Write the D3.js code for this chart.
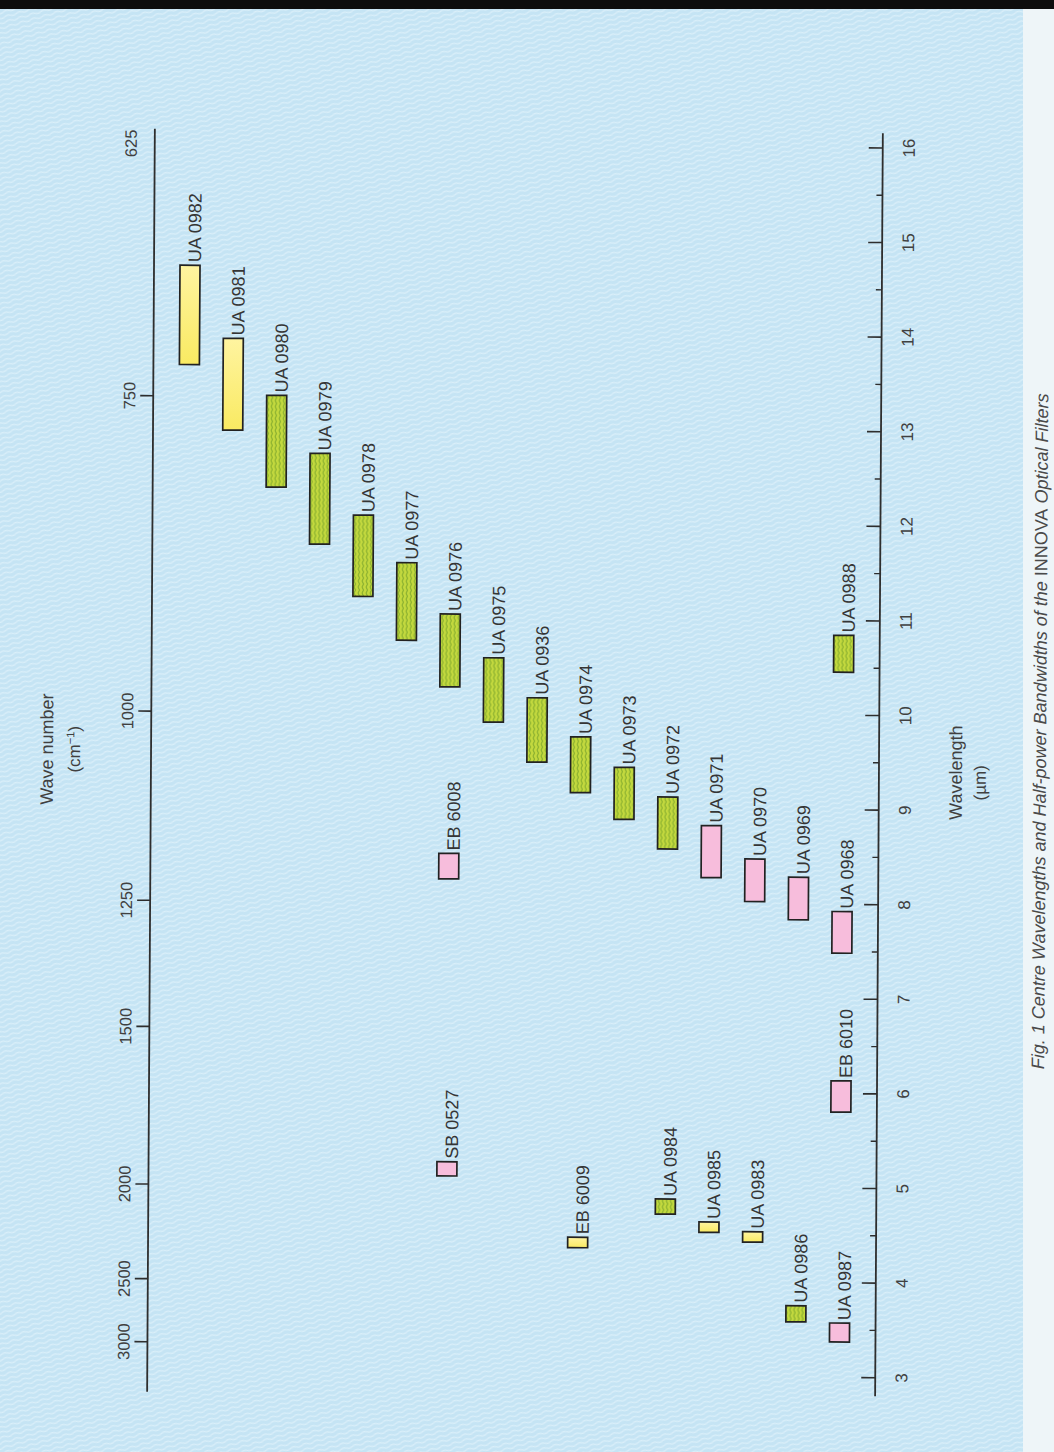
<!DOCTYPE html>
<html>
<head>
<meta charset="utf-8">
<script src="https://cdn.jsdelivr.net/npm/d3@7"></script>
<style>
  html, body { margin: 0; padding: 0; background: #ffffff; }
  svg { display: block; }
  text { font-family: "Liberation Sans", Arial, sans-serif; }
</style>
</head>
<body>
<svg id="chart" width="1054" height="1452"></svg>
<script>
// INNOVA optical filters: half-power band edges in micrometres
const filters = ["UA 0982", "UA 0981", "UA 0980", "UA 0979", "UA 0978", "UA 0977", "UA 0976",
  "UA 0975", "UA 0936", "UA 0974", "UA 0973", "UA 0972", "UA 0971", "UA 0970", "UA 0969",
  "UA 0968", "UA 0988", "EB 6008", "EB 6010", "SB 0527", "EB 6009", "UA 0984", "UA 0985",
  "UA 0983", "UA 0986", "UA 0987"];
// plotting column (left to right) of each filter
const columns = [0, 1, 2, 3, 4, 5, 6, 7, 8, 9, 10, 11, 12, 13, 14, 15, 15, 6, 15, 6, 9, 11, 12, 13, 14, 15];
const bandLow = [13.66, 12.97, 12.37, 11.77, 11.22, 10.76, 10.27, 9.90, 9.48, 9.16, 8.88, 8.57, 8.27,
  8.02, 7.83, 7.48, 10.45, 8.24, 5.80, 5.10, 4.35, 4.71, 4.52, 4.42, 3.58, 3.37];
const bandHigh = [14.71, 13.94, 13.34, 12.73, 12.08, 11.58, 11.04, 10.58, 10.16, 9.75, 9.43, 9.12, 8.82,
  8.47, 8.28, 7.92, 10.84, 8.51, 6.13, 5.25, 4.46, 4.87, 4.63, 4.53, 3.75, 3.57];
const coating = ["yellow", "yellow", "green", "green", "green", "green", "green", "green", "green",
  "green", "green", "green", "pink", "pink", "pink", "pink", "green", "pink", "pink", "pink",
  "yellow", "green", "yellow", "yellow", "green", "pink"];

// axis ticks
const wavelengthTicks = d3.range(3, 17);                 // µm
const wavelengthMinorTicks = d3.range(3.5, 16, 1);       // µm
const wavenumberTicks = [625, 750, 1000, 1250, 1500, 2000, 2500, 3000]; // cm-1
const axisExtent = [2.8, 16.15];                         // µm, drawn length of both axis lines

const svg = d3.select("#chart");
const W = 1054, H = 1452;
const defs = svg.append("defs");

// printed-paper texture of the blue page
const paper = defs.append("pattern").attr("id", "paper")
  .attr("patternUnits", "userSpaceOnUse").attr("width", 12).attr("height", 5)
  .attr("patternTransform", "rotate(-16)");
paper.append("rect").attr("width", 12).attr("height", 5).attr("fill", "#c5e4f4");
paper.append("path").attr("d", "M0,2.5 Q3,0.8 6,2.5 T12,2.5").attr("fill", "none")
  .attr("stroke", "#dcf0fa").attr("stroke-width", 1.3);

// page background
svg.append("rect").attr("width", W).attr("height", H).attr("fill", "#eef5f8");
svg.append("rect").attr("x", 0).attr("y", 0).attr("width", 1023).attr("height", H).attr("fill", "url(#paper)");
svg.append("rect").attr("x", 0).attr("y", 0).attr("width", W).attr("height", 9).attr("fill", "#0d0d0d");

// green coating: hatched yellow-green
const hatch = defs.append("pattern").attr("id", "greenHatch")
  .attr("patternUnits", "userSpaceOnUse").attr("width", 4).attr("height", 6);
hatch.append("rect").attr("width", 4).attr("height", 6).attr("fill", "#c3d93e");
hatch.append("path").attr("d", "M1,0 L2.5,3 L1,6").attr("fill", "none")
  .attr("stroke", "#86ad2e").attr("stroke-width", 1.1);
// yellow coating: pale at the long-wave end
const yg = defs.append("linearGradient").attr("id", "yellowFill")
  .attr("x1", 0).attr("y1", 0).attr("x2", 0).attr("y2", 1);
yg.append("stop").attr("offset", "0%").attr("stop-color", "#fff4a0");
yg.append("stop").attr("offset", "100%").attr("stop-color", "#f9ea62");

const fills = { yellow: "url(#yellowFill)", green: "url(#greenHatch)", pink: "#f7bddc" };

// the whole figure sits slightly skewed on the page
const page = svg.append("g").attr("transform", "rotate(0.35,515,760)");

// scales
const y = d3.scaleLinear().domain([3, 16]).range([1375, 145.2]);
// wave number = 10000 / wavelength, so a reciprocal power scale shares the same positions
const yWn = d3.scalePow().exponent(-1).domain([10000 / 3, 625]).range([y(3), y(16)]);
const xCol = d3.scalePoint().domain(d3.range(16)).range([187, 843]);
const barW = 20;

const leftX = 151, rightX = 879;
const ink = "#2e2e2e";
const textInk = "#404040";

// ---- right axis: wavelength ----
const right = page.append("g").attr("transform", `translate(${rightX},0)`);
right.append("line").attr("y1", y(axisExtent[0])).attr("y2", y(axisExtent[1]))
  .attr("stroke", ink).attr("stroke-width", 1.8);
const rMajor = right.append("g").call(d3.axisRight(y).tickValues(wavelengthTicks)
  .tickSizeInner(-14).tickSizeOuter(0).tickPadding(0).tickFormat(d3.format("d")));
rMajor.select(".domain").remove();
rMajor.selectAll(".tick line").attr("stroke", ink).attr("stroke-width", 1.6);
rMajor.selectAll(".tick text")
  .attr("x", null).attr("dy", null)
  .attr("transform", "translate(32,0) rotate(-90)")
  .attr("text-anchor", "middle")
  .attr("font-size", 17).attr("fill", textInk)
  .attr("font-family", "Liberation Sans, Arial, sans-serif");
const rMinor = right.append("g").call(d3.axisRight(y).tickValues(wavelengthMinorTicks)
  .tickSizeInner(-6).tickSizeOuter(0).tickFormat(""));
rMinor.select(".domain").remove();
rMinor.selectAll(".tick line").attr("stroke", ink).attr("stroke-width", 1.4);

// ---- left axis: wave number ----
const left = page.append("g").attr("transform", `translate(${leftX},0)`);
left.append("line").attr("y1", y(axisExtent[0])).attr("y2", y(axisExtent[1]))
  .attr("stroke", ink).attr("stroke-width", 1.8);
const lAxis = left.append("g").call(d3.axisLeft(yWn).tickValues(wavenumberTicks)
  .tickSizeInner(13).tickSizeOuter(0).tickPadding(0).tickFormat(d3.format("d")));
lAxis.select(".domain").remove();
lAxis.selectAll(".tick line").attr("stroke", ink).attr("stroke-width", 1.6)
  .attr("display", d => d === 625 ? "none" : null);
lAxis.selectAll(".tick text")
  .attr("x", null).attr("dy", null)
  .attr("transform", "translate(-18,0) rotate(-90)")
  .attr("text-anchor", "middle")
  .attr("font-size", 16.5).attr("fill", textInk)
  .attr("font-family", "Liberation Sans, Arial, sans-serif");

// ---- axis titles ----
function vtext(g, x, yy, str, size, anchor) {
  return g.append("text").attr("transform", `translate(${x},${yy}) rotate(-90)`)
    .attr("text-anchor", anchor || "middle").attr("font-size", size).attr("fill", textInk).text(str);
}
vtext(page, 53, 752, "Wave number", 18);
const cm = page.append("text").attr("transform", "translate(80,752) rotate(-90)")
  .attr("text-anchor", "middle").attr("font-size", 17).attr("fill", textInk);
cm.append("tspan").text("(cm");
cm.append("tspan").attr("font-size", 11).attr("dy", -6).text("−1");
cm.append("tspan").attr("dy", 6).text(")");
vtext(page, 962, 770, "Wavelength", 18);
vtext(page, 986, 780, "(µm)", 17);

// ---- filter bands ----
const idx = d3.range(filters.length);
const bands = page.append("g");
bands.selectAll("rect").data(idx).join("rect")
  .attr("x", i => xCol(columns[i]) - barW / 2)
  .attr("y", i => y(bandHigh[i]))
  .attr("width", barW)
  .attr("height", i => y(bandLow[i]) - y(bandHigh[i]))
  .attr("fill", i => fills[coating[i]])
  .attr("stroke", "#222").attr("stroke-width", 1.7);

bands.selectAll("text").data(idx).join("text")
  .attr("transform", i => `translate(${xCol(columns[i]) + barW / 2 + 1},${y(bandHigh[i]) - 3}) rotate(-90)`)
  .attr("text-anchor", "start").attr("font-size", 18).attr("fill", "#353535")
  .text(i => filters[i]);

// ---- caption ----
const cap = page.append("text").attr("transform", "translate(1046,1066) rotate(-90)")
  .attr("font-family", "Liberation Serif, Times New Roman, serif")
  .attr("font-size", 18).attr("fill", "#4a4a4a").attr("text-anchor", "start");
cap.append("tspan").attr("font-style", "italic").text("Fig. 1 Centre Wavelengths and Half-power Bandwidths of the ");
cap.append("tspan").text("INNOVA");
cap.append("tspan").attr("font-style", "italic").text(" Optical Filters");
</script>
</body>
</html>
